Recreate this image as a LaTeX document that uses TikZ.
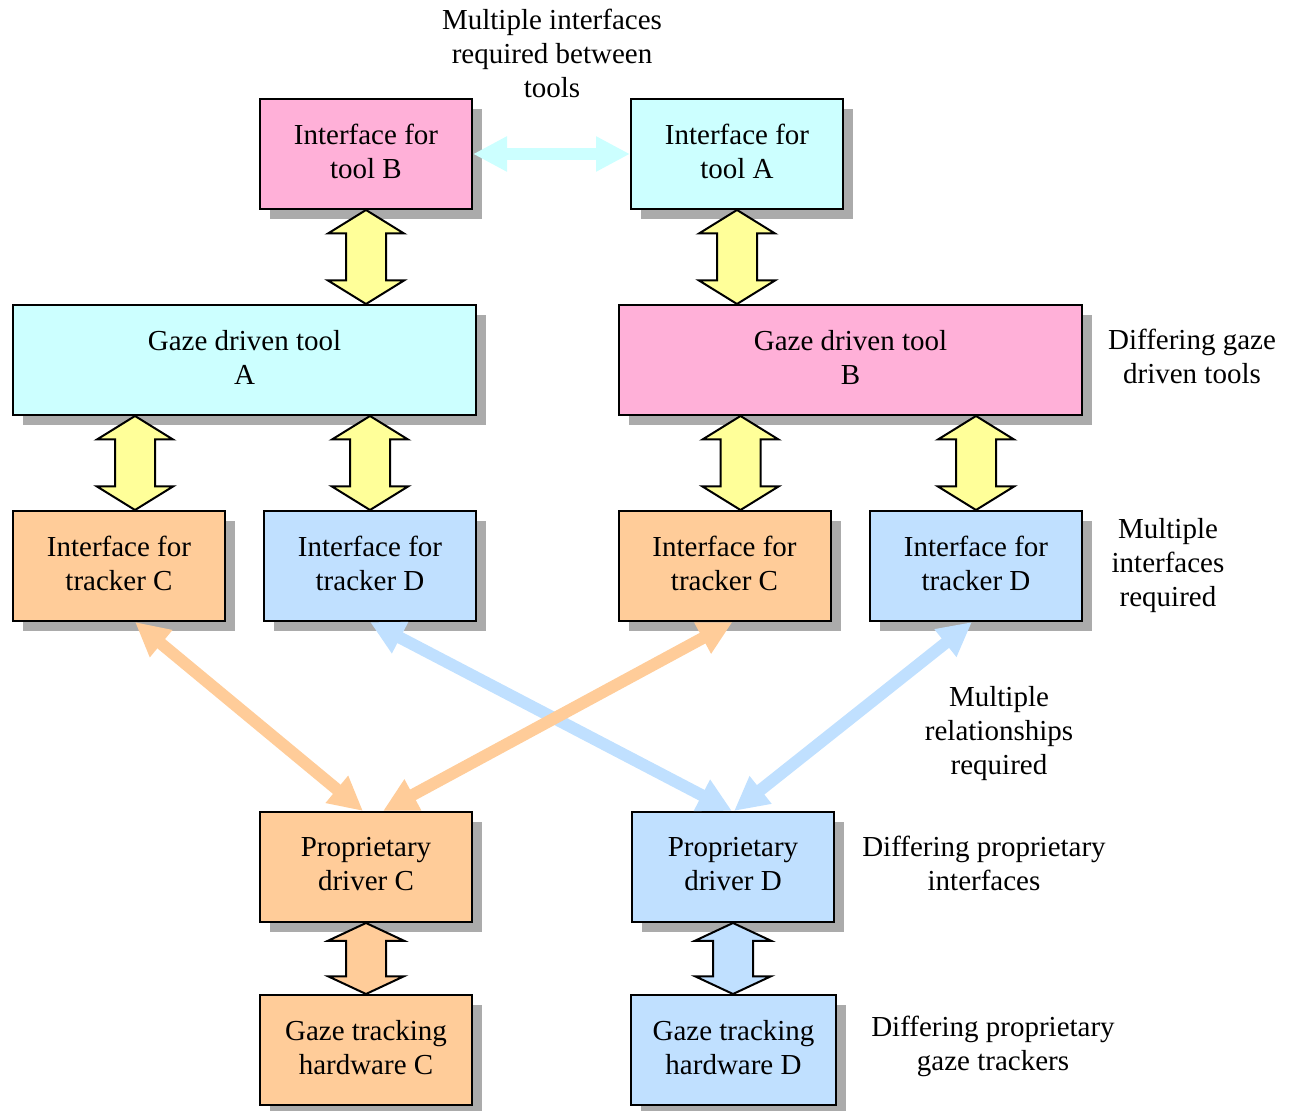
\documentclass[tikz,border=0pt]{standalone}
\usepackage{fontspec}
\setmainfont{Liberation Serif}
\usetikzlibrary{arrows.meta,calc,shadows}
\definecolor{pinkbox}{RGB}{255,176,216}
\definecolor{cyanbox}{RGB}{204,255,255}
\definecolor{orangebox}{RGB}{255,204,153}
\definecolor{bluebox}{RGB}{192,224,255}
\definecolor{yellowarr}{RGB}{255,255,153}
\newcommand\dblarrow[3]{%
  \draw[blockarr,fill=#1] (#2) -- ($(#2)!.25!(#3)+(38,0)$) -- ($(#2)!.25!(#3)+(20,0)$)
    -- ($(#2)!.75!(#3)+(20,0)$) -- ($(#2)!.75!(#3)+(38,0)$) -- (#3)
    -- ($(#2)!.75!(#3)+(-38,0)$) -- ($(#2)!.75!(#3)+(-20,0)$)
    -- ($(#2)!.25!(#3)+(-20,0)$) -- ($(#2)!.25!(#3)+(-38,0)$) -- cycle;}
\begin{document}
\begin{tikzpicture}[x=0.5pt,y=-0.5pt,line join=miter,font=\fontsize{14.5}{17}\selectfont,
	box/.style={draw,line width=1pt,align=center,inner sep=0pt,text depth=3pt,minimum height=55pt,minimum width=106pt,
		drop shadow={shadow xshift=5pt,shadow yshift=-5pt,fill=black!33,opacity=1}},
	lab/.style={align=center,inner sep=0pt},
	blockarr/.style={line width=1pt},
	link/.style={line width=6pt,{Triangle[length=17pt,width=16.5pt]}-{Triangle[length=17pt,width=16.5pt]}}]
		\useasboundingbox (0,0) rectangle (1290,1111);
		\node[box,fill=pinkbox] (ib) at (366,154) {Interface for\\tool B};
		\node[box,fill=cyanbox] (ia) at (737,154) {Interface for\\tool A};
		\node[box,fill=cyanbox,minimum width=231.5pt] (ga) at (244.5,360) {Gaze driven tool\\A};
		\node[box,fill=pinkbox,minimum width=231.5pt] (gb) at (850.5,360) {Gaze driven tool\\B};
		\node[box,fill=orangebox] (tc1) at (119,566) {Interface for\\tracker C};
		\node[box,fill=bluebox] (td1) at (370,566) {Interface for\\tracker D};
		\node[box,fill=orangebox] (tc2) at (724.5,566) {Interface for\\tracker C};
		\node[box,fill=bluebox] (td2) at (976,566) {Interface for\\tracker D};
		\node[box,fill=orangebox] (dc) at (366,867) {Proprietary\\driver C};
		\node[box,fill=bluebox,minimum width=101pt] (dd) at (733,867) {Proprietary\\driver D};
		\node[box,fill=orangebox] (hc) at (366,1050) {Gaze tracking\\hardware C};
		\node[box,fill=bluebox,minimum width=102.5pt] (hd) at (733.5,1050) {Gaze tracking\\hardware D};
		\node[lab] (t1) at (552,53) {Multiple interfaces\\required between\\tools};
		\node[lab] (t2) at (1192,356) {Differing gaze\\driven tools};
		\node[lab] (t3) at (1168,566) {Multiple\\interfaces\\required};
		\node[lab] (t4) at (999,734) {Multiple\\relationships\\required};
		\node[lab] (t5) at (984,863) {Differing proprietary\\interfaces};
		\node[lab] (t6) at (993,1046) {Differing proprietary\\gaze trackers};
		\coordinate (c1) at ($(tc1.north)+(16,0)$);
		\coordinate (c2) at ($(tc2.north)+(16,0)$);
		\dblarrow{yellowarr}{ib.south}{ib.south |- ga.north}
		\dblarrow{yellowarr}{ia.south}{ia.south |- gb.north}
		\dblarrow{yellowarr}{c1 |- ga.south}{c1}
		\dblarrow{yellowarr}{td1.north |- ga.south}{td1.north}
		\dblarrow{yellowarr}{c2 |- gb.south}{c2}
		\dblarrow{yellowarr}{td2.north |- gb.south}{td2.north}
		\dblarrow{orangebox}{dc.south}{hc.north}
		\dblarrow{bluebox}{dd.south}{dd.south |- hd.north}
		\draw[link,bluebox] (td1.south) -- ($(dd.north)+(-1,0)$);
		\draw[link,bluebox] ($(td2.south)+(-4,0)$) -- ($(dd.north)+(1,0)$);
		\draw[link,orangebox] (c1 |- tc1.south) -- ($(dc.north)+(-3,0)$);
		\draw[link,orangebox] ($(tc2.south)+(8,0)$) -- ($(dc.north)+(17,0)$);
		\draw[link,cyanbox] (ib) -- (ia);
\end{tikzpicture}
\end{document}
